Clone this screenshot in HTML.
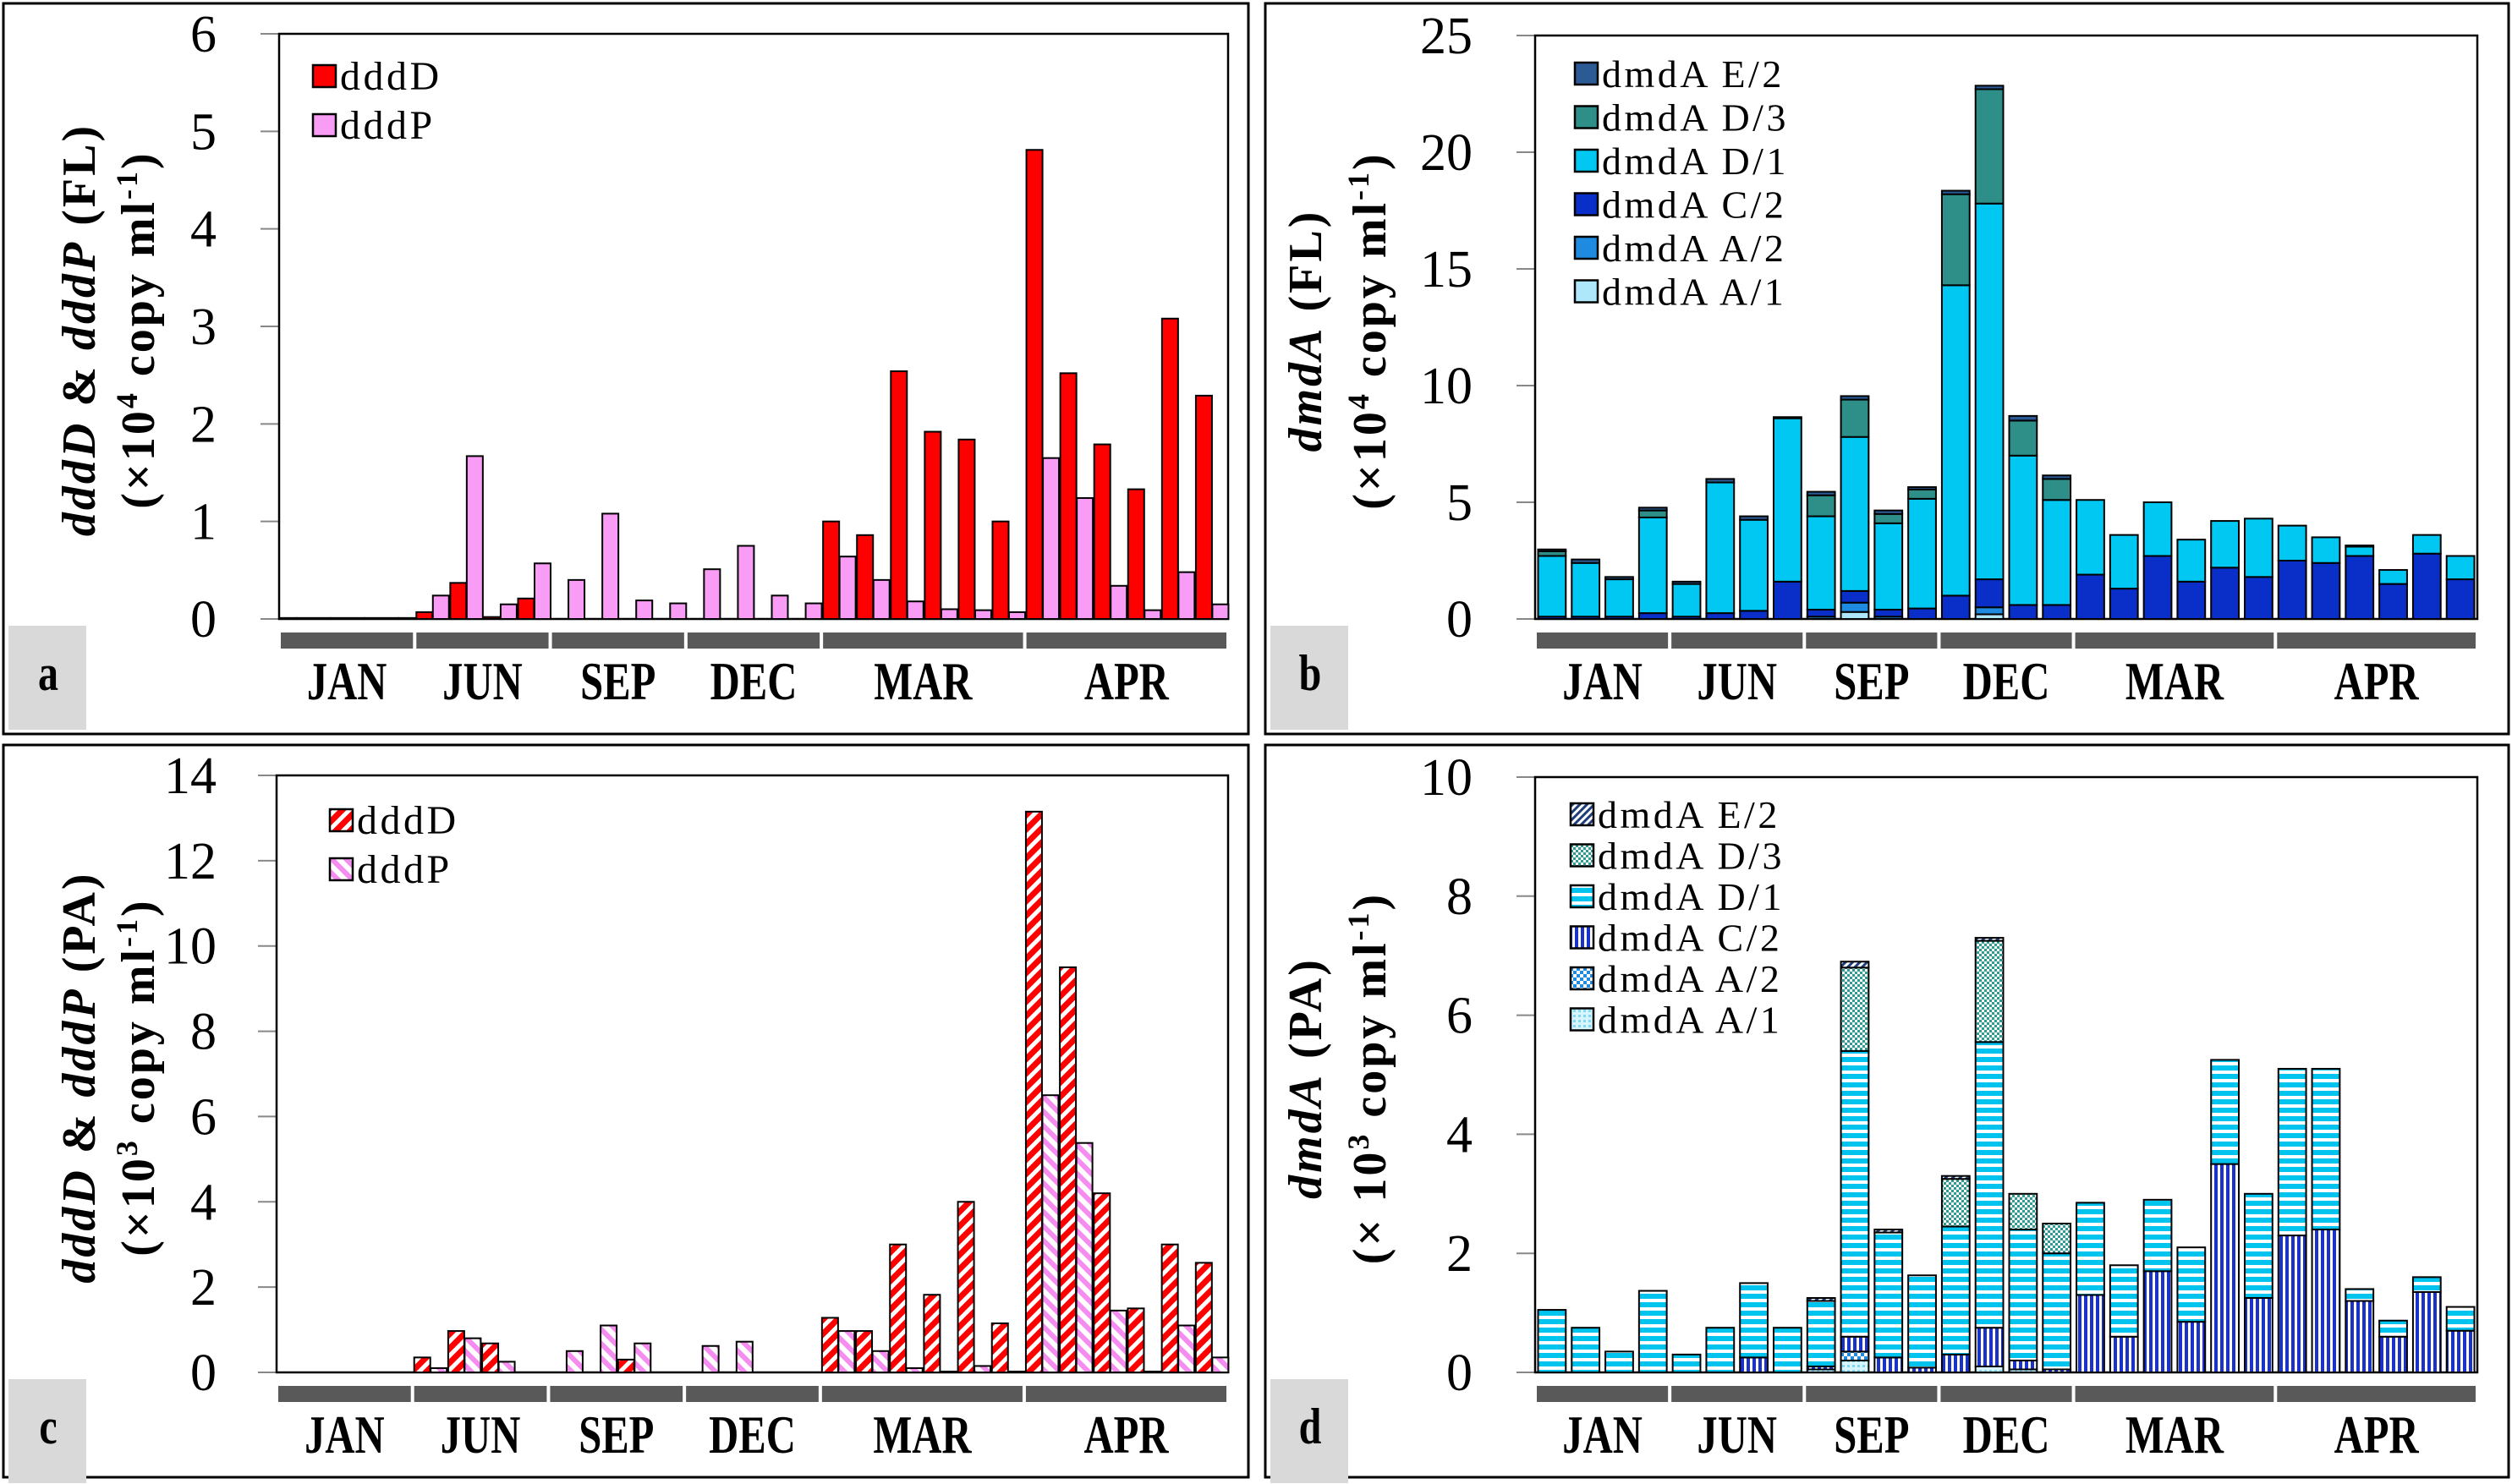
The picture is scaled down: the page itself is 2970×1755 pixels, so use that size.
<!DOCTYPE html>
<html><head><meta charset="utf-8">
<style>
html,body{margin:0;padding:0;background:#fff;}
svg{display:block;}
text{font-family:"Liberation Serif","DejaVu Serif",serif;}
</style></head>
<body>
<svg id="fig" width="2970" height="1755" viewBox="0 0 2970 1755" xmlns="http://www.w3.org/2000/svg">
<defs>
  <pattern id="pD" patternUnits="userSpaceOnUse" width="12" height="12" patternTransform="rotate(45)">
    <rect width="12" height="12" fill="#fff"/><rect width="7" height="12" fill="#ff0000"/>
  </pattern>
  <pattern id="pP" patternUnits="userSpaceOnUse" width="12" height="12" patternTransform="rotate(-45)">
    <rect width="12" height="12" fill="#fff"/><rect width="6" height="12" fill="#f58cf0"/>
  </pattern>
  <pattern id="qA1" patternUnits="userSpaceOnUse" width="6" height="6">
    <rect width="6" height="6" fill="#d8f4fc"/><rect width="3" height="3" fill="#7fd8f4"/>
  </pattern>
  <pattern id="qA2" patternUnits="userSpaceOnUse" width="8" height="8">
    <rect width="8" height="8" fill="#fff"/><rect width="4" height="4" fill="#1e8ae0"/><rect x="4" y="4" width="4" height="4" fill="#1e8ae0"/>
  </pattern>
  <pattern id="qC2" patternUnits="userSpaceOnUse" width="7" height="7">
    <rect width="7" height="7" fill="#fff"/><rect width="4" height="7" fill="#1a32c8"/>
  </pattern>
  <pattern id="qD1" patternUnits="userSpaceOnUse" width="10" height="10">
    <rect width="10" height="10" fill="#fff"/><rect width="10" height="6" fill="#00c4ee"/>
  </pattern>
  <pattern id="qD3" patternUnits="userSpaceOnUse" width="6" height="6">
    <rect width="6" height="6" fill="#fff"/><rect width="3" height="3" fill="#2e9b94"/><rect x="3" y="3" width="3" height="3" fill="#2e9b94"/>
  </pattern>
  <pattern id="qE2" patternUnits="userSpaceOnUse" width="6" height="6" patternTransform="rotate(45)">
    <rect width="6" height="6" fill="#fff"/><rect width="3" height="6" fill="#1f3f7a"/>
  </pattern>
</defs>
</svg>
<script>
// ---- data (28 sampling points: JAN 4, JUN 4, SEP 4, DEC 4, MAR 6, APR 6) ----
const months = ["JAN","JUN","SEP","DEC","MAR","APR"];
const monthCounts = [4,4,4,4,6,6];

const aTicks = [0,1,2,3,4,5,6];
const a_dddD = [0.01,0.01,0.01,0.01, 0.07,0.37,0.02,0.21, 0,0,0,0, 0,0,0,0, 1.0,0.86,2.54,1.92,1.84,1.0, 4.81,2.52,1.79,1.33,3.08,2.29];
const a_dddP = [0.01,0.01,0.01,0.01, 0.24,1.67,0.15,0.57, 0.40,1.08,0.19,0.16, 0.51,0.75,0.24,0.16, 0.64,0.40,0.18,0.10,0.09,0.07, 1.65,1.24,0.34,0.09,0.48,0.15];

const cTicks = [0,2,4,6,8,10,12,14];
const c_dddD = [0,0,0,0, 0.35,0.97,0.68,0, 0,0,0.3,0, 0,0,0,0, 1.28,0.97,3.0,1.82,4.0,1.15, 13.15,9.5,4.2,1.5,3.0,2.57];
const c_dddP = [0,0,0,0, 0.1,0.8,0.25,0, 0.5,1.1,0.68,0, 0.62,0.72,0,0, 0.97,0.5,0.1,0.02,0.15,0.02, 6.5,5.38,1.45,0.02,1.1,0.35];

const bTicks = [0,5,10,15,20,25];
const b_A1 = [0,0,0,0, 0,0,0,0, 0,0.3,0,0, 0,0.2,0,0, 0,0,0,0,0,0, 0,0,0,0,0,0];
const b_A2 = [0,0,0,0, 0,0,0,0, 0.1,0.4,0.1,0, 0,0.3,0,0, 0,0,0,0,0,0, 0,0,0,0,0,0];
const b_C2 = [0.1,0.1,0.1,0.25, 0.1,0.25,0.35,1.6, 0.3,0.5,0.3,0.45, 1.0,1.2,0.6,0.6, 1.9,1.3,2.7,1.6,2.2,1.8, 2.5,2.4,2.7,1.5,2.8,1.7];
const b_D1 = [2.6,2.3,1.6,4.1, 1.4,5.6,3.9,7.0, 4.0,6.6,3.7,4.7, 13.3,16.1,6.4,4.5, 3.2,2.3,2.3,1.8,2.0,2.5, 1.5,1.1,0.4,0.6,0.8,1.0];
const b_D3 = [0.2,0,0,0.3, 0,0,0,0, 0.9,1.6,0.4,0.4, 3.9,4.9,1.5,0.9, 0,0,0,0,0,0, 0,0,0,0,0,0];
const b_E2 = [0.08,0.15,0.1,0.12, 0.1,0.15,0.15,0.05, 0.15,0.15,0.15,0.1, 0.15,0.15,0.2,0.15, 0,0,0,0,0,0, 0,0,0.05,0,0,0];

const dTicks = [0,2,4,6,8,10];
const d_A1 = [0,0,0,0, 0,0,0,0, 0.05,0.2,0,0, 0,0.1,0.05,0, 0,0,0,0,0,0, 0,0,0,0,0,0];
const d_A2 = [0,0,0,0, 0,0,0,0, 0,0.15,0,0, 0,0,0,0, 0,0,0,0,0,0, 0,0,0,0,0,0];
const d_C2 = [0,0,0,0, 0,0,0.25,0, 0.05,0.25,0.25,0.08, 0.3,0.65,0.15,0.05, 1.3,0.6,1.7,0.85,3.5,1.25, 2.3,2.4,1.2,0.6,1.35,0.7];
const d_D1 = [1.05,0.75,0.35,1.37, 0.3,0.75,1.25,0.75, 1.1,4.8,2.1,1.55, 2.15,4.8,2.2,1.95, 1.55,1.2,1.2,1.25,1.75,1.75, 2.8,2.7,0.2,0.27,0.25,0.4];
const d_D3 = [0,0,0,0, 0,0,0,0, 0,1.4,0,0, 0.8,1.7,0.6,0.5, 0,0,0,0,0,0, 0,0,0,0,0,0];
const d_E2 = [0,0,0,0, 0,0,0,0, 0.05,0.1,0.05,0, 0.05,0.05,0,0, 0,0,0,0,0,0, 0,0,0,0,0,0];

const NS = "http://www.w3.org/2000/svg";
const svg = document.getElementById("fig");
function mk(tag, attrs, parent){
  const e = document.createElementNS(NS, tag);
  for (const k in attrs) e.setAttribute(k, attrs[k]);
  (parent||svg).appendChild(e);
  return e;
}

function drawPanel(p){
  const g = mk("g", {});
  
  
  const frame = mk("rect", {x:p.fx, y:p.fy, width:p.fw, height:p.fh, fill:"none", stroke:"#000", "stroke-width":3}, g);
  
  
  const N = 28;
  const cw = (p.x1 - p.x0) / N;
  const ymax = p.ticks[p.ticks.length-1];
  const ys = v => p.y1 - (v / ymax) * (p.y1 - p.y0);
  // ticks
  p.ticks.forEach(t => {
    const y = ys(t);
    const tl = mk("line", {x1:p.x0-22, x2:p.x0, y1:y, y2:y, stroke:"#888", "stroke-width":2}, g);
    
    
    const tx = mk("text", {x:p.x0-p.tickOff, y:y+21, "text-anchor":"end", "font-size":62, fill:"#000"}, g);
    tx.textContent = t;
    
    
  });
  const pf = mk("rect", {x:p.x0, y:p.y0, width:p.x1-p.x0, height:p.y1-p.y0, fill:"none", stroke:"#000", "stroke-width":2.5}, g);
  
  
  const bg = mk("g", {}, g);
  
  
  if (p.type === "pair"){
    for (let i=0;i<N;i++){
      const cs = p.x0 + i*cw;
      p.series.forEach((s, si) => {
        const v = s.data[i];
        if (v <= 0) return;
        const x = cs + 2 + si*19.5;
        const r = mk("rect", {x:x, y:ys(v), width:19, height:p.y1-ys(v), fill:s.fill, stroke:"#000", "stroke-width":2}, bg);
        
        
      });
    }
  } else {
    for (let i=0;i<N;i++){
      const cs = p.x0 + i*cw;
      let acc = 0;
      p.series.forEach(s => {
        const v = s.data[i];
        if (v <= 0) return;
        const ya = ys(acc), yb = ys(acc+v);
        const r = mk("rect", {x:cs+3.5, y:yb, width:cw-7, height:ya-yb, fill:s.fill, stroke:"#000", "stroke-width":2}, bg);
        
        
        acc += v;
      });
    }
  }
  let c0 = 0;
  months.forEach((m, mi) => {
    const n = monthCounts[mi];
    const xa = p.x0 + c0*cw + 2, xb = p.x0 + (c0+n)*cw - 2;
    const mb = mk("rect", {x:xa, y:p.y1+16, width:xb-xa, height:19, fill:"#595959"}, g);
    
    
    const ml = mk("text", {transform:`translate(${(xa+xb)/2},${p.y1+95}) scale(0.76,1)`, "text-anchor":"middle", "font-size":64, "font-weight":"bold", fill:"#000"}, g);
    ml.textContent = m;
    
    
    c0 += n;
  });
  const lb = mk("rect", {x:p.fx+6, y:p.y1+8, width:92, height:123, fill:"#d9d9d9"}, g);
  
  
  const lt = mk("text", {transform:`translate(${p.fx+53},${p.y1+84}) scale(0.8,1)`, "text-anchor":"middle", "font-size":60, "font-weight":"bold"}, g);
  lt.textContent = p.letter;
  
  
  const cy = (p.y0 + p.y1)/2 + 4;
  const t1 = mk("text", {transform:`translate(${p.t1x},${cy}) rotate(-90)`, "text-anchor":"middle", "font-size":56, "font-weight":"bold", "letter-spacing":3}, g);
  t1.innerHTML = p.title1;
  
  
  const t2 = mk("text", {transform:`translate(${p.t2x},${cy}) rotate(-90)`, "text-anchor":"middle", "font-size":56, "font-weight":"bold", "letter-spacing":3}, g);
  t2.innerHTML = p.title2;
  
  
  const lg = mk("g", {}, g);
  
  
  p.legendOrder.forEach((s, k) => {
    const cyL = p.legY + k*p.legDy;
    const sw = mk("rect", {x:p.legX, y:cyL-13, width:27, height:26, fill:s.fill, stroke:"#000", "stroke-width":2.5}, lg);
    
    
    const tx = mk("text", {x:p.legX+32, y:cyL+16, "font-size":p.legFont, "letter-spacing":3.5, fill:"#000"}, lg);
    tx.textContent = s.name;
    
    
  });
}

const sup = s => `<tspan baseline-shift="super" font-size="36">${s}</tspan>`;

const aSeries = [{name:"dddD", data:a_dddD, fill:"#ff0000"},{name:"dddP", data:a_dddP, fill:"#f99cf6"}];
drawPanel({letter:"a", fx:4, fy:4, fw:1472, fh:864, x0:330, x1:1452, y0:40, y1:732, ticks:aTicks, type:"pair", tickOff:74,
  series:aSeries, legendOrder:aSeries, legX:370, legY:90, legDy:58, legFont:48,
  t1x:112, t2x:182,
  title1:`<tspan font-style="italic">dddD</tspan> &amp; <tspan font-style="italic">dddP</tspan> (FL)`,
  title2:`(×10${sup("4")} copy ml${sup("-1")})`});

const bSeries = [
  {name:"dmdA A/1", data:b_A1, fill:"#aee6fa"},
  {name:"dmdA A/2", data:b_A2, fill:"#1e8ae0"},
  {name:"dmdA C/2", data:b_C2, fill:"#0a2fc8"},
  {name:"dmdA D/1", data:b_D1, fill:"#00c8f2"},
  {name:"dmdA D/3", data:b_D3, fill:"#2e8f88"},
  {name:"dmdA E/2", data:b_E2, fill:"#2c5a94"}];
drawPanel({letter:"b", fx:1496, fy:4, fw:1470, fh:864, x0:1815, x1:2929, y0:42, y1:732, ticks:bTicks, type:"stack", tickOff:74,
  series:bSeries, legendOrder:bSeries.slice().reverse(), legX:1862, legY:87, legDy:51.5, legFont:46,
  t1x:1562, t2x:1638,
  title1:`<tspan font-style="italic">dmdA</tspan> (FL)`,
  title2:`(×10${sup("4")} copy ml${sup("-1")})`});

const cSeries = [{name:"dddD", data:c_dddD, fill:"url(#pD)"},{name:"dddP", data:c_dddP, fill:"url(#pP)"}];
drawPanel({letter:"c", fx:4, fy:881, fw:1472, fh:866, x0:327, x1:1452, y0:917, y1:1623, ticks:cTicks, type:"pair", tickOff:71,
  series:cSeries, legendOrder:cSeries, legX:390, legY:970, legDy:58, legFont:48,
  t1x:112, t2x:182,
  title1:`<tspan font-style="italic">dddD</tspan> &amp; <tspan font-style="italic">dddP</tspan> (PA)`,
  title2:`(×10${sup("3")} copy ml${sup("-1")})`});

const dSeries = [
  {name:"dmdA A/1", data:d_A1, fill:"url(#qA1)"},
  {name:"dmdA A/2", data:d_A2, fill:"url(#qA2)"},
  {name:"dmdA C/2", data:d_C2, fill:"url(#qC2)"},
  {name:"dmdA D/1", data:d_D1, fill:"url(#qD1)"},
  {name:"dmdA D/3", data:d_D3, fill:"url(#qD3)"},
  {name:"dmdA E/2", data:d_E2, fill:"url(#qE2)"}];
drawPanel({letter:"d", fx:1496, fy:881, fw:1470, fh:866, x0:1815, x1:2929, y0:919, y1:1623, ticks:dTicks, type:"stack", tickOff:74,
  series:dSeries, legendOrder:dSeries.slice().reverse(), legX:1857, legY:963, legDy:48.5, legFont:46,
  t1x:1562, t2x:1638,
  title1:`<tspan font-style="italic">dmdA</tspan> (PA)`,
  title2:`(× 10${sup("3")} copy ml${sup("-1")})`});
</script>
</body></html>
